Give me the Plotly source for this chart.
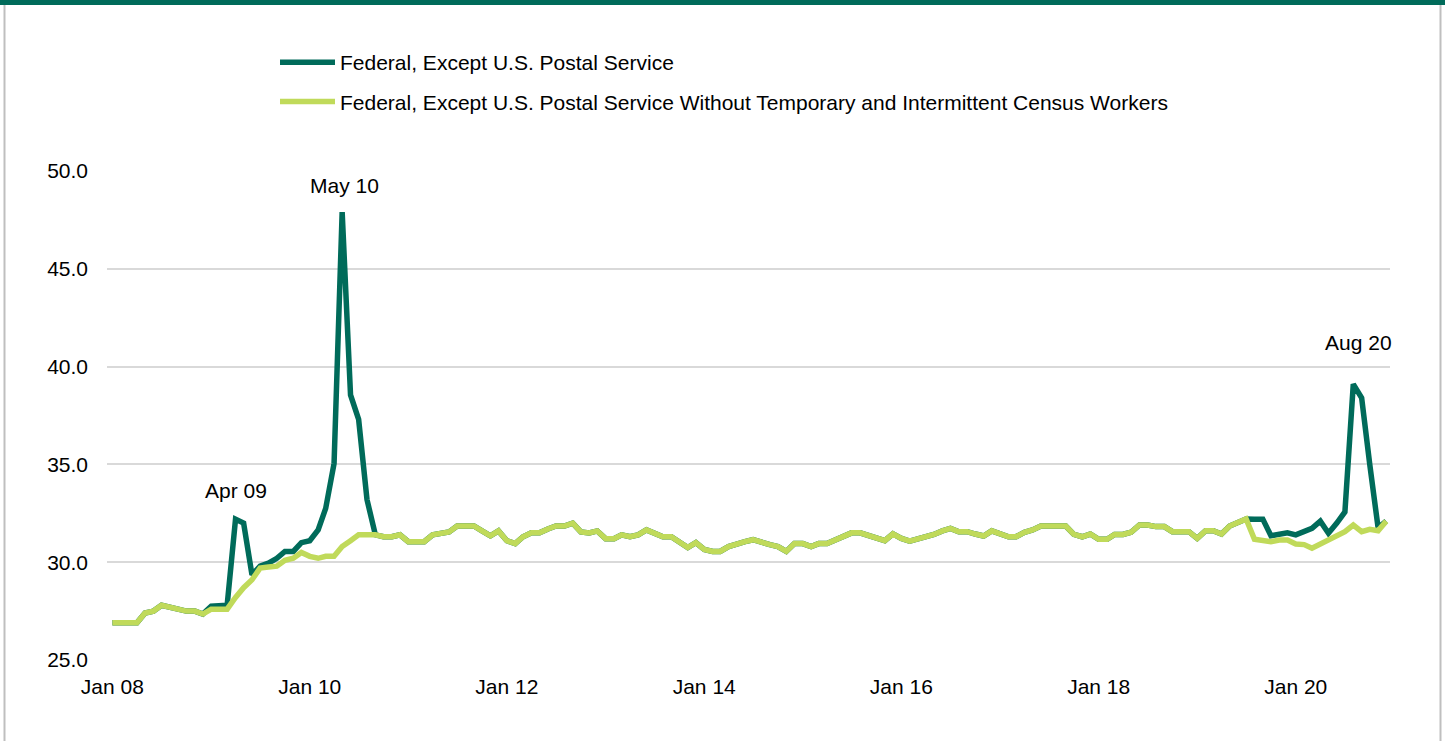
import pandas as pd
import plotly.graph_objects as go

months = pd.date_range("2008-01-01", "2020-12-01", freq="MS")

federal_ex_usps = [
    26.9, 26.9, 26.9, 26.9, 27.4, 27.5, 27.8, 27.7, 27.6, 27.5, 27.5, 27.35,
    27.75, 27.75, 27.8, 32.2, 32.0, 29.35, 29.8, 29.95, 30.2, 30.55, 30.55, 31.0,
    31.1, 31.65, 32.75, 35.05, 47.9, 38.55, 37.3, 33.2, 31.4, 31.3, 31.3, 31.4,
    31.05, 31.05, 31.05, 31.4, 31.5, 31.55, 31.85, 31.85, 31.85, 31.6, 31.35, 31.6,
    31.1, 30.95, 31.3, 31.5, 31.5, 31.7, 31.85, 31.85, 32.0, 31.55, 31.5, 31.6,
    31.2, 31.2, 31.4, 31.3, 31.4, 31.65, 31.5, 31.3, 31.3, 31.0, 30.75, 31.0,
    30.65, 30.55, 30.55, 30.8, 30.95, 31.05, 31.15, 31.0, 30.9, 30.8, 30.55, 30.95,
    30.95, 30.8, 30.95, 30.95, 31.15, 31.3, 31.5, 31.5, 31.35, 31.2, 31.1, 31.45,
    31.22, 31.08, 31.18, 31.3, 31.42, 31.6, 31.73, 31.56, 31.56, 31.44, 31.34, 31.6,
    31.44, 31.3, 31.3, 31.53, 31.65, 31.85, 31.85, 31.85, 31.85, 31.42, 31.3, 31.44,
    31.17, 31.17, 31.42, 31.42, 31.53, 31.9, 31.9, 31.82, 31.82, 31.56, 31.56, 31.56,
    31.22, 31.61, 31.61, 31.44, 31.85, 32.04, 32.21, 32.2, 32.2, 31.35, 31.45, 31.5,
    31.4, 31.6, 31.73, 32.1, 31.48, 32.0, 32.57, 39.1, 38.4, 35.0, 31.75, 32.1,
]

federal_ex_usps_no_census = [
    26.9, 26.9, 26.9, 26.9, 27.4, 27.5, 27.8, 27.7, 27.6, 27.5, 27.5, 27.35,
    27.6, 27.6, 27.6, 28.2, 28.7, 29.1, 29.7, 29.75, 29.8, 30.1, 30.2, 30.5,
    30.3, 30.2, 30.3, 30.3, 30.8, 31.1, 31.4, 31.4, 31.4, 31.3, 31.3, 31.4,
    31.05, 31.05, 31.05, 31.4, 31.5, 31.55, 31.85, 31.85, 31.85, 31.6, 31.35, 31.6,
    31.1, 30.95, 31.3, 31.5, 31.5, 31.7, 31.85, 31.85, 32.0, 31.55, 31.5, 31.6,
    31.2, 31.2, 31.4, 31.3, 31.4, 31.65, 31.5, 31.3, 31.3, 31.0, 30.75, 31.0,
    30.65, 30.55, 30.55, 30.8, 30.95, 31.05, 31.15, 31.0, 30.9, 30.8, 30.55, 30.95,
    30.95, 30.8, 30.95, 30.95, 31.15, 31.3, 31.5, 31.5, 31.35, 31.2, 31.1, 31.45,
    31.22, 31.08, 31.18, 31.3, 31.42, 31.6, 31.73, 31.56, 31.56, 31.44, 31.34, 31.6,
    31.44, 31.3, 31.3, 31.53, 31.65, 31.85, 31.85, 31.85, 31.85, 31.42, 31.3, 31.44,
    31.17, 31.17, 31.42, 31.42, 31.53, 31.9, 31.9, 31.82, 31.82, 31.56, 31.56, 31.56,
    31.22, 31.61, 31.61, 31.44, 31.85, 32.04, 32.21, 31.17, 31.13, 31.05, 31.13, 31.13,
    30.93, 30.9, 30.71, 30.93, 31.13, 31.42, 31.56, 31.9, 31.56, 31.68, 31.61, 32.1,
]

series_names = [
    "Federal, Except U.S. Postal Service",
    "Federal, Except U.S. Postal Service Without Temporary and Intermittent Census Workers",
]

tick_dates = ["2008-01-01", "2010-01-01", "2012-01-01", "2014-01-01",
              "2016-01-01", "2018-01-01", "2020-01-01"]
tick_labels = ["Jan 08", "Jan 10", "Jan 12", "Jan 14", "Jan 16", "Jan 18", "Jan 20"]

peak_dates = ["2009-04-01", "2010-05-01", "2020-08-01"]
peak_labels = ["Apr 09", "May 10", "Aug 20"]

DARK = "#006B5A"
LIGHT = "#C0DA5A"
FONT = "Liberation Sans, Arial, sans-serif"

fig = go.Figure()
fig.add_trace(go.Scatter(x=months, y=federal_ex_usps, mode="lines", name=series_names[0],
                         legendgroup="a", line=dict(color=DARK, width=5.5)))
fig.add_trace(go.Scatter(x=months, y=federal_ex_usps_no_census, mode="lines", name=series_names[1],
                         legendgroup="b", line=dict(color=LIGHT, width=5.5)))

vals = dict(zip(months.strftime("%Y-%m-%d"), federal_ex_usps))
shifts = [29, 27, 42]
xshifts = [0, 2, 5]
for d, lab, ys, xs in zip(peak_dates, peak_labels, shifts, xshifts):
    fig.add_annotation(x=d, y=vals[d], text=lab, showarrow=False, yshift=ys, xshift=xs,
                       font=dict(size=21, color="black", family=FONT))

L, R, T, B = 107, 55, 171, 81
PW, PH = 1445 - L - R, 741 - T - B
def px(xp):
    return (xp - L) / PW
def py(yp):
    return (741 - B - yp) / PH

shapes = [
    dict(type="rect", xref="paper", yref="paper", x0=px(0), x1=px(1445), y0=py(5), y1=py(0),
         fillcolor=DARK, line=dict(width=0), layer="above"),
    dict(type="line", xref="paper", yref="paper", x0=px(4.5), x1=px(4.5), y0=py(741), y1=py(5),
         line=dict(color="#BFBFBF", width=2)),
    dict(type="line", xref="paper", yref="paper", x0=px(1440.5), x1=px(1440.5), y0=py(741), y1=py(5),
         line=dict(color="#BFBFBF", width=2)),
]

fig.update_layout(
    width=1445, height=741,
    margin=dict(l=L, r=R, t=T, b=B),
    paper_bgcolor="white", plot_bgcolor="white",
    font=dict(family=FONT, size=21, color="black"),
    showlegend=True,
    legend=dict(x=px(275), y=py(42), xanchor="left", yanchor="top",
                font=dict(size=21, family=FONT, color="black"),
                itemwidth=55, bgcolor="rgba(0,0,0,0)", tracegroupgap=9),
    shapes=shapes,
    xaxis=dict(type="date", range=["2007-12-12", "2020-12-15"],
               tickvals=tick_dates, ticktext=tick_labels, showgrid=False,
               zeroline=False, showline=False, ticks="", ticklabelstandoff=12,
               tickfont=dict(size=21, family=FONT, color="black")),
    yaxis=dict(range=[25, 50], tickvals=[25, 30, 35, 40, 45, 50], tickformat=".1f",
               showgrid=True, gridcolor="#D9D9D9", gridwidth=2, zeroline=False,
               showline=False, ticks="", ticklabelstandoff=18,
               tickfont=dict(size=21, family=FONT, color="black")),
)

fig.write_html("out.html", config={"displayModeBar": False},
               post_script="document.body.style.margin='0';document.body.style.overflow='hidden';")
